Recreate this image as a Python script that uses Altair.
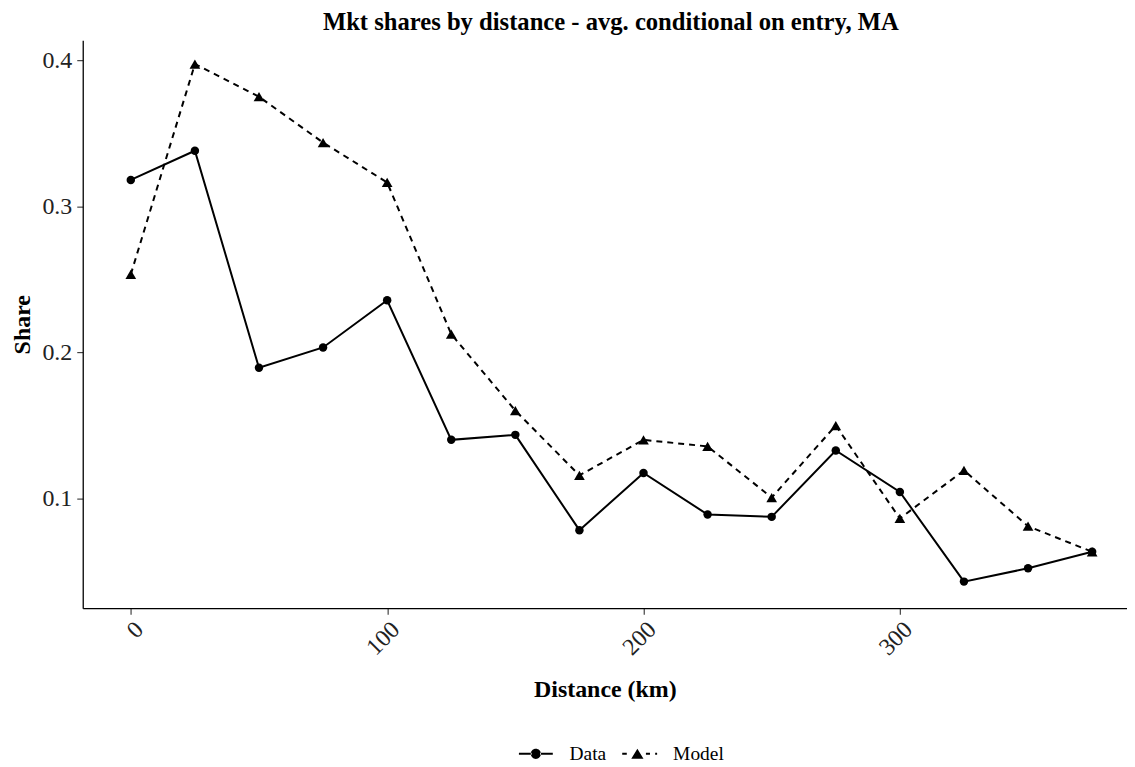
import altair as alt
import pandas as pd

distance = [0, 25, 50, 75, 100, 125, 150, 175, 200, 225, 250, 275, 300, 325, 350, 375]
data_share = [0.318, 0.338, 0.1895, 0.2034, 0.2357, 0.1402, 0.1436, 0.0784,
              0.1175, 0.0891, 0.0875, 0.1329, 0.1045, 0.0432, 0.0523, 0.0636]
model_share = [0.2534, 0.3973, 0.375, 0.3436, 0.3163, 0.2125, 0.1602, 0.1159,
               0.1402, 0.1357, 0.1007, 0.15, 0.0864, 0.1193, 0.0811, 0.0636]
series_names = ["Data", "Model"]
x_ticks = [0, 100, 200, 300]
y_ticks = [0.1, 0.2, 0.3, 0.4]

rows = []
for d, v in zip(distance, data_share):
    rows.append({"distance": d, "share": v, "series": "Data"})
for d, v in zip(distance, model_share):
    rows.append({"distance": d, "share": v, "series": "Model"})
df = pd.DataFrame(rows)

FONT = "Liberation Serif"

x = alt.X("distance:Q",
          scale=alt.Scale(domain=[-18.75, 388.6], nice=False, zero=False),
          axis=alt.Axis(values=x_ticks, title="Distance (km)", labelAngle=-45,
                        labelAlign="right", labelBaseline="top",
                        labelPadding=3, titlePadding=18))
y = alt.Y("share:Q",
          scale=alt.Scale(domain=[0.025, 0.4136], nice=False, zero=False),
          axis=alt.Axis(values=y_ticks, format=".1f", title="Share",
                        labelPadding=5, titlePadding=7))

base = alt.Chart(df)

line_data = base.transform_filter(alt.datum.series == "Data").mark_line(
    color="black", strokeWidth=2).encode(x=x, y=y)
line_model = base.transform_filter(alt.datum.series == "Model").mark_line(
    color="black", strokeWidth=2, strokeDash=[6, 5]).encode(x=x, y=y)

circles = base.transform_filter(alt.datum.series == "Data").mark_point(
    shape="circle", filled=True, color="black", size=72, opacity=1).encode(x=x, y=y)

triangles = base.transform_filter(alt.datum.series == "Model").mark_point(
    shape="triangle-up", filled=True, color="black", size=115, opacity=1).encode(x=x, y=y)

# legend keys: line segment (thin filled bars) + marker, in symbol units
path_data = ("M-2,-0.12H-0.5V0.12H-2Z M0.5,-0.12H2V0.12H0.5Z "
             "M-0.6,0A0.6,0.6 0 1,0 0.6,0A0.6,0.6 0 1,0 -0.6,0Z")
path_model = ("M-2.04,-0.12H-1.5V0.12H-2.04Z M0.76,-0.12H1.24V0.12H0.76Z "
              "M1.85,-0.12H2.08V0.12H1.85Z "
              "M-0.97,0.58L0.47,0.58L-0.25,-0.6Z")

# legend-only layer: no rows are drawn, the explicit scale domain feeds the legend
legend_layer = base.transform_filter(alt.datum.share < 0).mark_point(
    filled=True, color="black").encode(
    x=x, y=y,
    shape=alt.Shape("series:N",
                    scale=alt.Scale(domain=series_names, range=[path_data, path_model]),
                    legend=alt.Legend(orient="none", legendX=445, legendY=706,
                                      direction="horizontal", title=None,
                                      symbolSize=289, symbolOpacity=1,
                                      symbolFillColor="black",
                                      labelFont=FONT, labelFontSize=19.5,
                                      labelColor="black", labelOffset=24,
                                      columnPadding=12)),
)

chart = alt.layer(line_data, line_model, circles, triangles, legend_layer).properties(
    width=1048, height=570,
    padding={"left": 3, "top": 0, "right": 0, "bottom": 0},
    title=alt.Title("Mkt shares by distance - avg. conditional on entry, MA",
                    font=FONT, fontSize=24.7, fontWeight="bold", color="black",
                    anchor="middle", offset=6, dx=6),
).configure_view(stroke=None).configure_axis(
    grid=False, domainColor="black", domainWidth=1.3,
    tickColor="#333333", tickWidth=1.1, tickSize=6,
    labelFont=FONT, labelFontSize=24, labelColor="#222222",
    titleFont=FONT, titleFontSize=24, titleFontWeight="bold", titleColor="black",
)

chart.save("out.html", embed_options={"renderer": "svg", "actions": False})
